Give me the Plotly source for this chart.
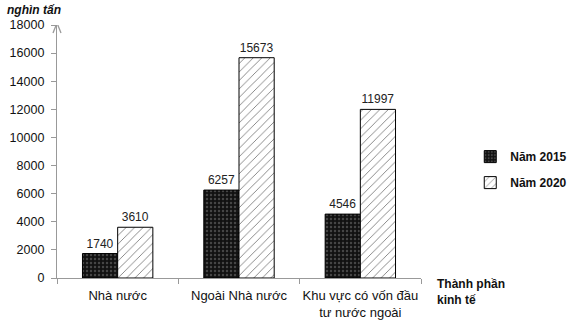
import plotly.graph_objects as go

categories = ["Nhà nước", "Ngoài Nhà nước", "Khu vực có vốn đầu<br>tư nước ngoài"]
series_names = ["Năm 2015", "Năm 2020"]
values_2015 = [1740, 6257, 4546]
values_2020 = [3610, 15673, 11997]
y_ticks = [0, 2000, 4000, 6000, 8000, 10000, 12000, 14000, 16000, 18000]

FONT = "Liberation Sans, Arial, sans-serif"

fig = go.Figure()
fig.add_trace(go.Bar(
    name=series_names[0], x=categories, y=values_2015,
    text=[str(v) for v in values_2015], textposition="outside",
    textfont=dict(size=12, color="#222", family=FONT),
    marker=dict(color="#111", line=dict(color="#000", width=1),
                pattern=dict(shape=".", fgcolor="#777", bgcolor="#111", size=4, solidity=0.3)),
    legendgroup="a", cliponaxis=False,
))
fig.add_trace(go.Bar(
    name=series_names[1], x=categories, y=values_2020,
    text=[str(v) for v in values_2020], textposition="outside",
    textfont=dict(size=12, color="#222", family=FONT),
    marker=dict(color="white", line=dict(color="#000", width=1),
                pattern=dict(shape="/", fgcolor="#000", bgcolor="white", size=6, solidity=0.15)),
    legendgroup="b", cliponaxis=False,
))

fig.update_layout(
    width=570, height=323,
    margin=dict(l=57, r=149, t=25, b=45, autoexpand=False),
    paper_bgcolor="white", plot_bgcolor="white",
    barmode="group", bargap=0.42, bargroupgap=0,
    font=dict(family=FONT, size=12, color="#111"),
    legend=dict(xref="container", yref="container", x=0.825, y=0.56,
                xanchor="left", yanchor="top",
                font=dict(size=12, family=FONT, weight="bold"),
                tracegroupgap=7, itemwidth=30),
    showlegend=True,
)
fig.update_yaxes(range=[0, 18000], tickvals=y_ticks, ticktext=[str(v) for v in y_ticks],
                 showgrid=False, automargin=False,
                 showline=True, linecolor="#999", linewidth=1.3,
                 ticks="outside", ticklen=5, tickcolor="#999",
                 ticklabelstandoff=4, tickfont=dict(size=12.5), zeroline=False)
fig.update_xaxes(showline=True, linecolor="#999", linewidth=1.3, automargin=False,
                 ticks="outside", ticklen=5, tickcolor="#999", tickangle=0,
                 ticklabelstandoff=5,
                 tickson="boundaries", tickfont=dict(size=13), showgrid=False)

# arrowhead at top of y axis
for dx in (-4, 4):
    fig.add_shape(type="line", xref="paper", yref="y",
                  xsizemode="pixel", ysizemode="pixel", xanchor=0, yanchor=18000,
                  x0=dx, y0=-8, x1=0, y1=2, line=dict(color="#999", width=1.3))

fig.add_annotation(text="<b><i>nghìn tấn</i></b>", xref="paper", yref="paper",
                   x=-0.143, y=1.095, xanchor="left", yanchor="top", showarrow=False,
                   font=dict(size=12, family=FONT))
fig.add_annotation(text="<b>Thành phần<br>kinh tế</b>", xref="paper", yref="paper",
                   x=1.038, y=-0.055, xanchor="left", yanchor="middle", showarrow=False,
                   align="left", font=dict(size=12, family=FONT))

fig.write_html("out.html")
